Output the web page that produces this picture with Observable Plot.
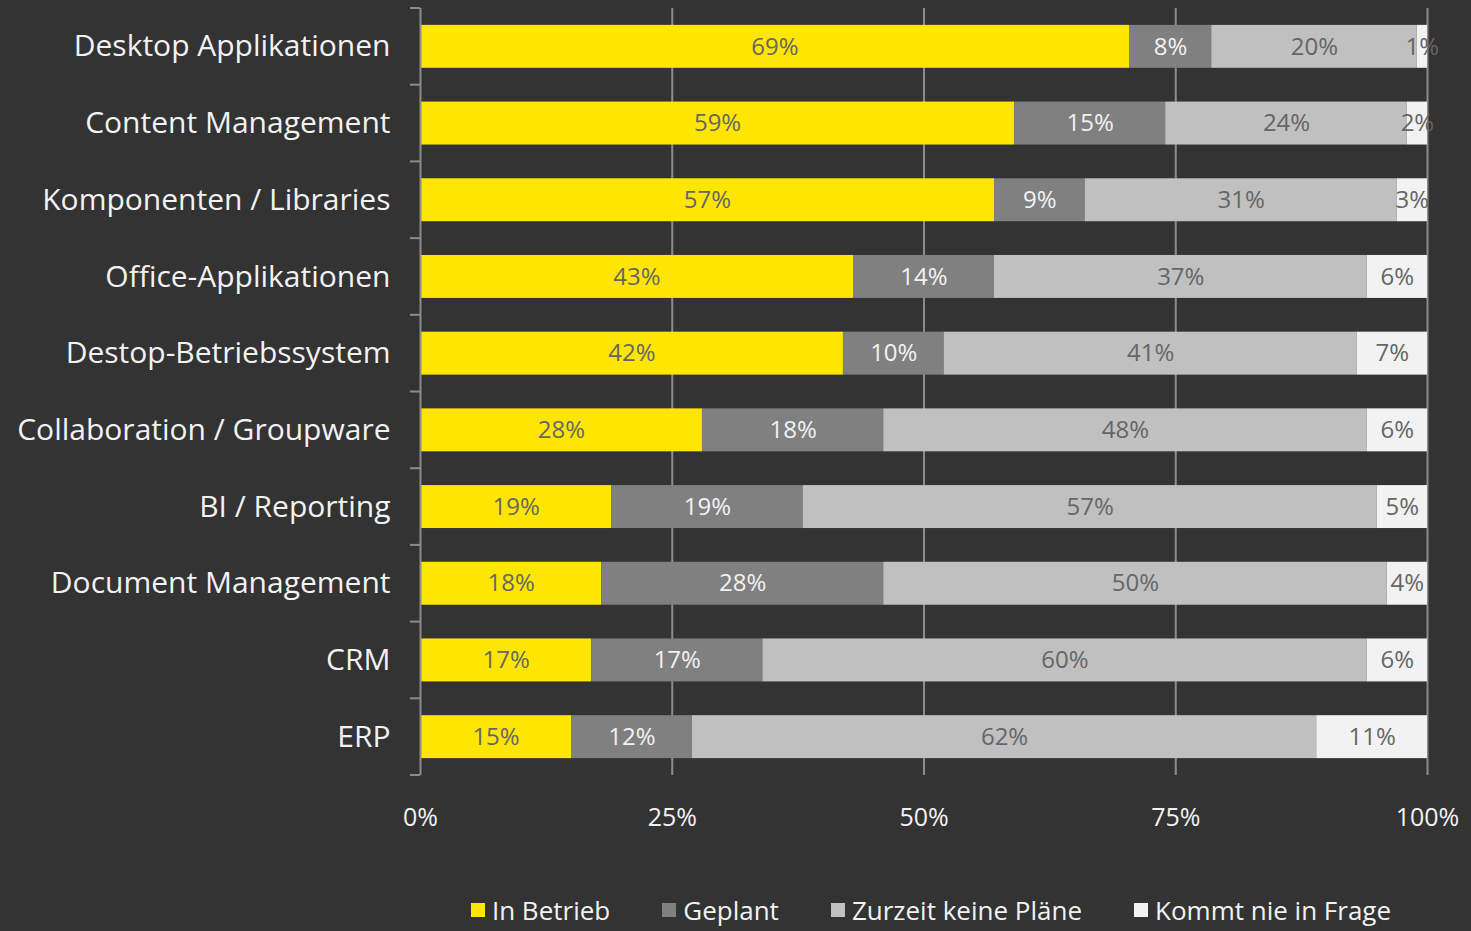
<!DOCTYPE html>
<html>
<head>
<meta charset="utf-8">
<script src="https://cdn.jsdelivr.net/npm/d3@7"></script>
<script src="https://cdn.jsdelivr.net/npm/@observablehq/plot@0.6"></script>
<style>
  html, body { margin: 0; padding: 0; background: #333333; overflow: hidden; }
  #chart svg { display: block; }
  #legend { display: flex; justify-content: center; margin-left: 391px; padding-top: 24px;
    font-family: "Open Sans", sans-serif; font-size: 26px; color: #f2f2f2; line-height: 32px; }
  .item { display: flex; align-items: center; margin: 0 26px; }
  .sw { width: 14px; height: 14px; margin-right: 7px; }
</style>
</head>
<body>
<div id="chart"></div>
<div id="legend"></div>
<script>
const categories = [
  "Desktop Applikationen", "Content Management", "Komponenten / Libraries",
  "Office-Applikationen", "Destop-Betriebssystem", "Collaboration / Groupware",
  "BI / Reporting", "Document Management", "CRM", "ERP"
];
const statuses = ["In Betrieb", "Geplant", "Zurzeit keine Pläne", "Kommt nie in Frage"];
const inBetrieb = [69, 59, 57, 43, 42, 28, 19, 18, 17, 15];
const geplant   = [8, 15, 9, 14, 10, 18, 19, 28, 17, 12];
const keinePlaene = [20, 24, 31, 37, 41, 48, 57, 50, 60, 62];
const nieInFrage  = [1, 2, 3, 6, 7, 6, 5, 4, 6, 11];
const xTicks = [0, 0.25, 0.5, 0.75, 1];
const colors = ["#FFE600", "#808080", "#C0C0C0", "#F2F2F2"];

const series = [inBetrieb, geplant, keinePlaene, nieInFrage];
const data = [];
categories.forEach((c, i) => {
  statuses.forEach((s, j) => data.push({category: c, status: s, value: series[j][i]}));
});

const fmt = d3.format(".0%");
const PAD = 0.44;

const boundaryTicks = (index, scales, values, dims) => {
  const y = scales.y, x = scales.x;
  const step = y(categories[1]) - y(categories[0]);
  const g = d3.create("svg:g");
  const x0 = x(0);
  const top = y(categories[0]) - PAD * step / 2;
  for (let i = 0; i <= categories.length; i++) {
    const yy = top + i * step;
    g.append("line").attr("x1", x0 - 10).attr("x2", x0).attr("y1", yy).attr("y2", yy)
      .attr("stroke", "#8c8c8c").attr("stroke-width", 2);
  }
  return g.node();
};

const chart = Plot.plot({
  width: 1471,
  height: 870,
  marginLeft: 420,
  marginRight: 44,
  marginTop: 8,
  marginBottom: 95,
  style: {background: "#333333", fontFamily: "'Open Sans', sans-serif", overflow: "visible"},
  x: {domain: [0, 1]},
  y: {domain: categories, paddingInner: PAD, paddingOuter: PAD / 2, round: false},
  color: {domain: statuses, range: colors},
  marks: [
    Plot.gridX({ticks: [0.25, 0.5, 0.75, 1], stroke: "#8c8c8c", strokeOpacity: 1, strokeWidth: 2}),
    Plot.barX(data, Plot.stackX({offset: "normalize", order: statuses, x: "value", y: "category", z: "status", fill: "status"})),
    Plot.text(data, Plot.stackX({offset: "normalize", order: statuses, x: "value", y: "category", z: "status",
      text: d => d.value + "%",
      fill: d => d.status === "Geplant" ? "#F2F2F2" : "#666666",
      fontSize: 24})),
    Plot.ruleX([0], {stroke: "#8c8c8c", strokeWidth: 2}),
    boundaryTicks,
    Plot.axisY({tickSize: 0, tickPadding: 30, fontSize: 30, fill: "#F2F2F2", label: null}),
    Plot.axisX({ticks: xTicks, tickSize: 0, tickPadding: 33, tickFormat: fmt, fontSize: 25, fill: "#F2F2F2", label: null})
  ]
});
document.getElementById("chart").appendChild(chart);

const legend = document.getElementById("legend");
statuses.forEach((s, i) => {
  const item = document.createElement("div");
  item.className = "item";
  const sw = document.createElement("span");
  sw.className = "sw";
  sw.style.background = colors[i];
  const t = document.createElement("span");
  t.textContent = s;
  item.appendChild(sw);
  item.appendChild(t);
  legend.appendChild(item);
});
</script>
</body>
</html>
